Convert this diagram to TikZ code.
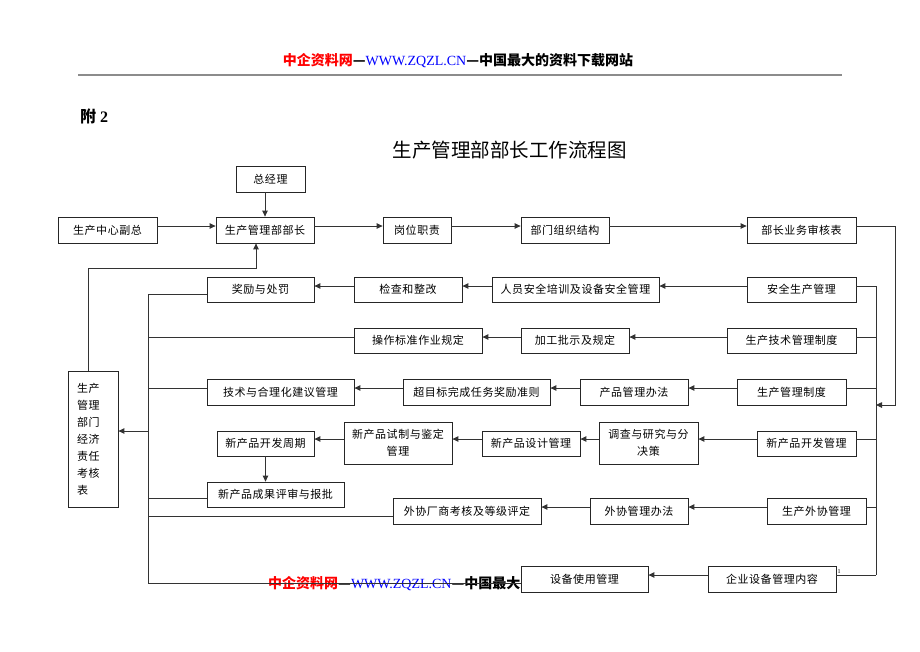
\documentclass[tikz,border=0pt]{standalone}
\usepackage{fontspec}
\setmainfont{Liberation Serif}
\newfontfamily\cjk{Noto Sans CJK SC}
\newfontfamily\cjkbox[LetterSpace=5]{Noto Sans CJK SC}
\usetikzlibrary{arrows.meta}

\begin{document}
\begin{tikzpicture}[x=1pt,y=-1pt]
					\useasboundingbox (0,0) rectangle (920,651);
					\tikzstyle{every node}=[];
					\tikzstyle{box}=[draw=black!85, fill=white, line width=0.8pt, minimum height=25pt, inner sep=0pt, align=center, font=\cjkbox\fontsize{11}{17}\selectfont];
					\tikzstyle{line}=[draw=black!80, line width=0.85pt];
					\tikzstyle{arr}=[line, -{Triangle[length=6pt,width=5.5pt]}];
					% header and title
					\path (458,61) node[font=\cjk\bfseries\fontsize{14}{14}\selectfont] (hd) {{\color{red}中企资料网}—{\color{blue}\rmfamily\mdseries WWW.ZQZL.CN}—中国最大的资料下载网站};
					\draw[black!45, line width=1.5pt] (78,75) -- (842,75);
					\path (94,116) node[font=\bfseries\fontsize{16}{16}\selectfont] (fu) {{\cjk 附} 2};
					\path (509.5,150) node[font=\cjk\fontsize{19.5}{20}\selectfont] (title) {生产管理部部长工作流程图};
					\begin{scope}
					\clip (260,570) rectangle (520.5,600);
					\path (268,584) node[anchor=west, inner sep=0pt, font=\cjk\bfseries\fontsize{14}{14}\selectfont] (ft) {{\color{red}中企资料网}—{\color{blue}\rmfamily\mdseries WWW.ZQZL.CN}—中国最大的};
					\end{scope}
					\path (839,572) node[font=\fontsize{6}{6}\selectfont] (pg) {1};
					% top row
					\path (270.5,179) node[box, minimum width=69pt, minimum height=26pt] (zjl) {总经理};
					\path (107.5,230) node[box, minimum width=99pt, minimum height=26pt] (fz) {生产中心副总};
					\path (265,230) node[box, minimum width=98pt, minimum height=26pt] (bz) {生产管理部部长};
					\path (417,230) node[box, minimum width=68pt, minimum height=26pt] (gw) {岗位职责};
					\path (565,230) node[box, minimum width=88pt, minimum height=26pt] (zz) {部门组织结构};
					\path (801.5,230) node[box, minimum width=109pt, minimum height=26pt] (sh) {部长业务审核表};
					% safety row
					\path (260.5,289.5) node[box, minimum width=107pt] (jl) {奖励与处罚};
					\path (408,289.5) node[box, minimum width=108pt] (jc) {检查和整改};
					\path (575.5,289.5) node[box, minimum width=167pt] (px) {人员安全培训及设备安全管理};
					\path (801.5,289.5) node[box, minimum width=109pt] (aq) {安全生产管理};
					% technology row
					\path (418,340.5) node[box, minimum width=128pt] (cz) {操作标准作业规定};
					\path (575,340.5) node[box, minimum width=108pt] (jg) {加工批示及规定};
					\path (791.5,340.5) node[box, minimum width=129pt] (js) {生产技术管理制度};
					% production row
					\path (280.5,392) node[box, minimum width=147pt, minimum height=26pt] (hl) {技术与合理化建议管理};
					\path (476.5,392) node[box, minimum width=147pt, minimum height=26pt] (cm) {超目标完成任务奖励准则};
					\path (634,392) node[box, minimum width=108pt, minimum height=26pt] (cp) {产品管理办法};
					\path (791.5,392) node[box, minimum width=109pt, minimum height=26pt] (zd) {生产管理制度};
					% new product row
					\path (265.5,443.5) node[box, minimum width=97pt] (zq) {新产品开发周期};
					\path (398,443) node[box, minimum width=108pt, minimum height=42pt] (sz) {新产品试制与鉴定\\管理};
					\path (531,443.5) node[box, minimum width=98pt] (sj) {新产品设计管理};
					\path (648.5,443) node[box, minimum width=99pt, minimum height=42pt] (dc) {调查与研究与分\\决策};
					\path (806.5,443.5) node[box, minimum width=99pt] (kf) {新产品开发管理};
					\path (275.5,494.5) node[box, minimum width=137pt] (cg) {新产品成果评审与报批};
					% outsourcing row
					\path (467,511) node[box, minimum width=148pt, minimum height=26pt] (wk) {外协厂商考核及等级评定};
					\path (639,511) node[box, minimum width=98pt, minimum height=26pt] (wb) {外协管理办法};
					\path (816.5,511) node[box, minimum width=99pt, minimum height=26pt] (wx) {生产外协管理};
					% equipment row
					\path (584.5,579) node[box, minimum width=127pt, minimum height=26pt] (sy) {设备使用管理};
					\path (772,579) node[box, minimum width=128pt, minimum height=26pt] (qy) {企业设备管理内容};
					% assessment table
					\path (93,439) node[box, minimum width=50pt, minimum height=136pt, text width=32pt, align=left] (kh) {生产\\管理\\部门\\经济\\责任\\考核\\表};
					\coordinate (rbot) at (876,575);
					\coordinate (rin) at (876,405);
					\coordinate (rout) at (895,405);
					\coordinate (lbot) at (148,583);
					\coordinate (lin) at (148,431);
					\coordinate (fb) at (88,268);
					% connectors
					\draw[arr] (zjl.south -| bz.north) -- (bz.north);
					\draw[arr] ([yshift=4pt]fz.east) -- ([yshift=4pt]bz.west);
					\draw[arr] ([yshift=4pt]bz.east) -- ([yshift=4pt]gw.west);
					\draw[arr] ([yshift=4pt]gw.east) -- ([yshift=4pt]zz.west);
					\draw[arr] ([yshift=4pt]zz.east) -- ([yshift=4pt]sh.west);
					\draw[arr] ([yshift=4pt]sh.east) -| (rout) -- (rin);
					\draw[line] ([yshift=3.5pt]aq.east) -| (rbot);
					\draw[line] ([yshift=3.5pt]js.east) -| (rbot);
					\draw[line] ([yshift=4pt]zd.east) -| (rbot);
					\draw[line] ([yshift=4.5pt]kf.east) -| (rbot);
					\draw[line] ([yshift=4pt]wx.east) -| (rbot);
					\draw[line] ([yshift=4pt]qy.east) -- (rbot);
					\draw[arr] ([yshift=3.5pt]aq.west) -- ([yshift=3.5pt]px.east);
					\draw[arr] ([yshift=3.5pt]px.west) -- ([yshift=3.5pt]jc.east);
					\draw[arr] ([yshift=3.5pt]jc.west) -- ([yshift=3.5pt]jl.east);
					\draw[arr] ([yshift=3.5pt]js.west) -- ([yshift=3.5pt]jg.east);
					\draw[arr] ([yshift=3.5pt]jg.west) -- ([yshift=3.5pt]cz.east);
					\draw[arr] ([yshift=4pt]zd.west) -- ([yshift=4pt]cp.east);
					\draw[arr] ([yshift=4pt]cp.west) -- ([yshift=4pt]cm.east);
					\draw[arr] ([yshift=4pt]cm.west) -- ([yshift=4pt]hl.east);
					\draw[arr] ([yshift=4.5pt]kf.west) -- ([yshift=4pt]dc.east);
					\draw[arr] ([yshift=4pt]dc.west) -- ([yshift=4.5pt]sj.east);
					\draw[arr] ([yshift=4.5pt]sj.west) -- ([yshift=4pt]sz.east);
					\draw[arr] ([yshift=4pt]sz.west) -- ([yshift=4.5pt]zq.east);
					\draw[arr] (zq.south) -- (zq.south |- cg.north);
					\draw[arr] ([yshift=4pt]wx.west) -- ([yshift=4pt]wb.east);
					\draw[arr] ([yshift=4pt]wb.west) -- ([yshift=4pt]wk.east);
					\draw[arr] ([yshift=4pt]qy.west) -- ([yshift=4pt]sy.east);
					\draw[line] ([yshift=-4.5pt]jl.west) -| (lbot);
					\draw[line] ([yshift=3.5pt]cz.west) -| (lbot);
					\draw[line] ([yshift=4pt]hl.west) -| (lbot);
					\draw[line] ([yshift=-3.5pt]cg.west) -| (lbot);
					\draw[line] ([yshift=-5pt]wk.west) -| (lbot);
					\draw[line] ([yshift=-4pt]sy.west) -- (lbot);
					\draw[arr] (lin) -- (lin -| kh.east);
					\draw[arr] (fb |- kh.north) -- (fb) -| ([xshift=-9pt]bz.south);
\end{tikzpicture}
\end{document}
